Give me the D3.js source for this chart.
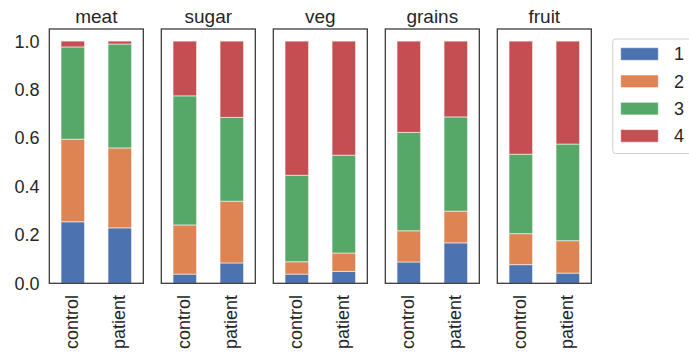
<!DOCTYPE html>
<html>
<head>
<meta charset="utf-8">
<script src="https://cdn.jsdelivr.net/npm/d3@7"></script>
<style>
  html, body { margin: 0; padding: 0; background: #fff; }
  svg { display: block; font-family: "Liberation Sans", Arial, sans-serif; }
</style>
</head>
<body>
<svg id="chart" width="689" height="356"></svg>
<script>
// Food categories (one panel each) and the two groups inside every panel
const foods = ["meat", "sugar", "veg", "grains", "fruit"];
const groups = ["control", "patient"];
const levels = ["1", "2", "3", "4"];

// Share of each response level, per food: [control, patient]
const level1 = [[0.254, 0.229], [0.038, 0.084], [0.038, 0.049], [0.088, 0.167], [0.077, 0.042]];
const level2 = [[0.341, 0.330], [0.203, 0.255], [0.051, 0.076], [0.129, 0.131], [0.128, 0.134]];
const level3 = [[0.381, 0.429], [0.533, 0.346], [0.357, 0.404], [0.406, 0.389], [0.328, 0.399]];
const level4 = [[0.024, 0.012], [0.226, 0.315], [0.554, 0.471], [0.377, 0.313], [0.467, 0.425]];

const yTicks = [0, 0.2, 0.4, 0.6, 0.8, 1.0];
const colors = ["#4C72B0", "#DD8452", "#55A868", "#C44E52"];
const textColor = "#262626";

const svg = d3.select("#chart");
const levelData = [level1, level2, level3, level4];

const panel = d3.scaleBand().domain(foods).range([49.3, 591.3]).paddingInner(18 / 112).paddingOuter(0);
const x = d3.scaleBand().domain(groups).range([0, panel.bandwidth()]).paddingInner(0.5).paddingOuter(0.25);
const y = d3.scaleLinear().domain([0, 1.05]).range([283.3, 29]);
const color = d3.scaleOrdinal().domain(levels).range(colors);

// Y tick labels on the left of the first panel
svg.append("g")
  .selectAll("text")
  .data(yTicks)
  .join("text")
  .attr("x", 39.5)
  .attr("y", d => y(d))
  .attr("dy", "0.36em")
  .attr("text-anchor", "end")
  .attr("font-size", 18)
  .attr("fill", textColor)
  .text(d => d3.format(".1f")(d));

foods.forEach((food, fi) => {
  const rows = groups.map((g, gi) => {
    const row = { group: g };
    levels.forEach((lv, li) => { row[lv] = levelData[li][fi][gi]; });
    return row;
  });
  const series = d3.stack().keys(levels)(rows);

  const g = svg.append("g").attr("transform", `translate(${panel(food)},0)`);

  g.selectAll("g.layer")
    .data(series)
    .join("g")
    .attr("class", "layer")
    .attr("fill", d => color(d.key))
    .selectAll("rect")
    .data(d => d)
    .join("rect")
    .attr("x", d => x(d.data.group))
    .attr("width", x.bandwidth())
    .attr("y", d => y(d[1]))
    .attr("height", d => y(d[0]) - y(d[1]))
    .attr("stroke", "#ffffff")
    .attr("stroke-opacity", 0.55)
    .attr("stroke-width", 1);

  // Panel frame
  g.append("rect")
    .attr("x", 0)
    .attr("y", y.range()[1])
    .attr("width", panel.bandwidth())
    .attr("height", y.range()[0] - y.range()[1])
    .attr("fill", "none")
    .attr("stroke", "#333333")
    .attr("stroke-width", 1.25);

  // Panel title
  g.append("text")
    .attr("x", panel.bandwidth() / 2)
    .attr("y", 23)
    .attr("text-anchor", "middle")
    .attr("font-size", 19)
    .attr("fill", textColor)
    .text(food);

  // Rotated group labels under the bars
  g.selectAll("text.group")
    .data(groups)
    .join("text")
    .attr("class", "group")
    .attr("transform", d => `translate(${x(d) + x.bandwidth() / 2},295) rotate(-90)`)
    .attr("dy", "0.3em")
    .attr("text-anchor", "end")
    .attr("font-size", 18)
    .attr("fill", textColor)
    .text(d => d);
});

// Legend
const legend = svg.append("g");
legend.append("rect")
  .attr("x", 612.7)
  .attr("y", 39)
  .attr("width", 90)
  .attr("height", 114.5)
  .attr("rx", 3)
  .attr("fill", "#ffffff")
  .attr("stroke", "#d0d0d0")
  .attr("stroke-width", 1);

const item = legend.selectAll("g.item")
  .data(levels)
  .join("g")
  .attr("class", "item")
  .attr("transform", (d, i) => `translate(0,${54 + i * 27.3})`);

item.append("rect")
  .attr("x", 620.7)
  .attr("y", -6.3)
  .attr("width", 37.6)
  .attr("height", 12.6)
  .attr("fill", d => color(d))
  .attr("stroke", "#ffffff")
  .attr("stroke-opacity", 0.55)
  .attr("stroke-width", 1);

item.append("text")
  .attr("x", 674)
  .attr("dy", "0.36em")
  .attr("font-size", 18)
  .attr("fill", textColor)
  .text(d => d);
</script>
</body>
</html>
